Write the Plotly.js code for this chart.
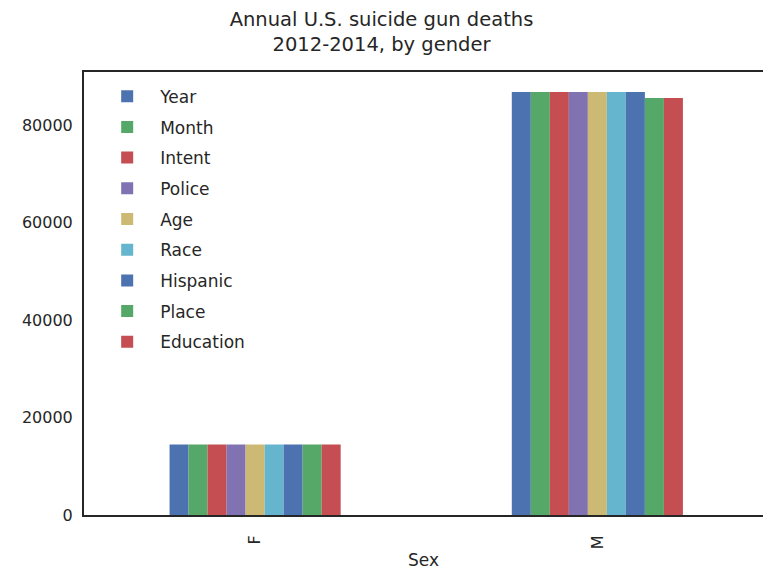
<!DOCTYPE html>
<html>
<head>
<meta charset="utf-8">
<script src="https://cdn.plot.ly/plotly-3.0.1.min.js"></script>
<style>html,body{margin:0;padding:0;background:#fff;}#chart{width:763px;height:573px;}</style>
</head>
<body>
<div id="chart"></div>
<script>
const categories = ['F', 'M'];
const seriesNames = ['Year', 'Month', 'Intent', 'Police', 'Age', 'Race', 'Hispanic', 'Place', 'Education'];
const Year      = [14450, 86800];
const Month     = [14450, 86800];
const Intent    = [14450, 86800];
const Police    = [14450, 86800];
const Age       = [14450, 86800];
const Race      = [14450, 86800];
const Hispanic  = [14450, 86800];
const Place     = [14450, 85550];
const Education = [14450, 85550];
const seriesValues = [Year, Month, Intent, Police, Age, Race, Hispanic, Place, Education];
const colors = ['#4C72B0', '#55A868', '#C44E52', '#8172B2', '#CCB974', '#64B5CD', '#4C72B0', '#55A868', '#C44E52'];

const font = 'DejaVu Sans, sans-serif';
const traces = seriesNames.map((name, i) => ({
  type: 'bar',
  name: name,
  x: categories,
  y: seriesValues[i],
  legendgroup: 'g' + i,
  marker: {color: colors[i], line: {width: 0}}
}));

const layout = {
  width: 763, height: 573,
  margin: {l: 84, r: 0, t: 72, b: 58},
  paper_bgcolor: '#fff', plot_bgcolor: '#fff',
  barmode: 'group', bargap: 0.5, bargroupgap: 0,
  title: {text: 'Annual U.S. suicide gun deaths<br>2012-2014, by gender', x: 0.5, xanchor: 'center',
          yref: 'container', y: 0.9545, yanchor: 'middle',
          font: {family: font, size: 19.5, color: '#262626'}},
  font: {family: font, color: '#262626'},
  xaxis: {
    range: [-0.5, 1.484], showline: true, mirror: true, linecolor: '#262626', linewidth: 2,
    showgrid: false, zeroline: false, ticks: '', tickangle: -90, ticklabelstandoff: 12,
    tickfont: {family: font, size: 16, color: '#262626'},
    title: {text: 'Sex', font: {family: font, size: 17, color: '#262626'}, standoff: 6}
  },
  yaxis: {
    range: [0, 90900], showline: true, mirror: false, linecolor: '#262626', linewidth: 2,
    showgrid: false, zeroline: false, ticks: '', tickvals: [0, 20000, 40000, 60000, 80000],
    ticktext: ['0', '20000', '40000', '60000', '80000'],
    tickfont: {family: font, size: 16, color: '#262626'}, ticklabelstandoff: 6
  },
  legend: {x: 0.015, y: 0.985, xanchor: 'left', yanchor: 'top', bgcolor: 'rgba(0,0,0,0)', borderwidth: 0,
           font: {family: font, size: 17, color: '#262626'}, traceorder: 'grouped', tracegroupgap: 5.6, itemwidth: 56},
  showlegend: true
};

Plotly.newPlot('chart', traces, layout, {displayModeBar: false, staticPlot: true});
</script>
</body>
</html>
